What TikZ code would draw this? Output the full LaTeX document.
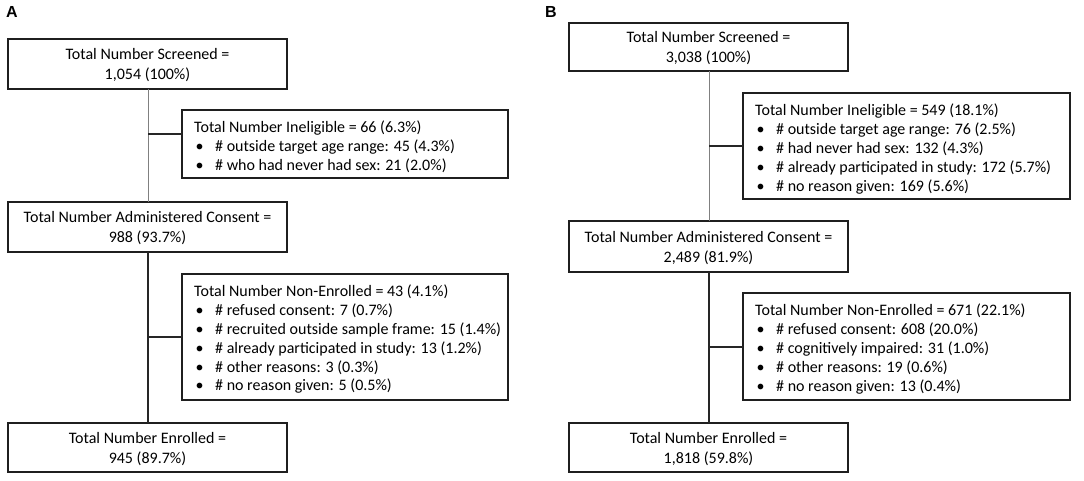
\documentclass[tikz,border=0pt]{standalone}
\usepackage{fontspec}
\setmainfont{Carlito}
\newfontfamily\labfont{Liberation Sans}
\begin{document}
\begin{tikzpicture}[x=1pt,y=-1pt,
  box/.style={draw=black!88,line width=1.4pt,inner sep=0pt},
  ctr/.style={align=center,font=\fontsize{16}{20}\selectfont,inner sep=0pt,yshift=-1.5pt},
  lft/.style={align=left,font=\fontsize{16}{18.8}\selectfont,inner sep=0pt,anchor=north west},
  thinline/.style={draw=black!50,line width=0.8pt},
  thickline/.style={draw=black!85,line width=1.3pt},
  branch/.style={draw=black!85,line width=1.3pt},
  panel/.style={font=\labfont\bfseries\fontsize{16}{16}\selectfont,inner sep=0pt}]
\newcommand{\bul}{\hspace*{1.5pt}\makebox[19.5pt][l]{\textbullet}}
\useasboundingbox (0,0) rectangle (1084,480);

% ---------- Panel A ----------
\node[panel] (labA) at (12,12) {A};
\draw[box] (8,39) rectangle (287,89);
\node[ctr] (aS) at (147.5,64) {Total Number Screened =\\1,054 (100\%)};
\draw[box] (182,110) rectangle (508,178);
\node[lft] (aI) at (194,121) {Total Number Ineligible = 66 (6.3\%)\\
\bul\# outside target age range: 45 (4.3\%)\\
\bul\# who had never had sex: 21 (2.0\%)};
\draw[box] (8,202) rectangle (287,252);
\node[ctr] (aC) at (147.5,227) {Total Number Administered Consent =\\988 (93.7\%)};
\draw[box] (182,274) rectangle (508,400);
\node[lft] (aN) at (194,285) {Total Number Non-Enrolled = 43 (4.1\%)\\
\bul\# refused consent: 7 (0.7\%)\\
\bul\# recruited outside sample frame: 15 (1.4\%)\\
\bul\# already participated in study: 13 (1.2\%)\\
\bul\# other reasons: 3 (0.3\%)\\
\bul\# no reason given: 5 (0.5\%)};
\draw[box] (8,423) rectangle (287,472);
\node[ctr] (aE) at (147.5,447.5) {Total Number Enrolled =\\945 (89.7\%)};
\coordinate (aS1) at (148,89);
\coordinate (aC0) at (148,202);
\coordinate (aC1) at (148,252);
\coordinate (aE0) at (148,423);
\coordinate (aJ1) at (148,134);
\coordinate (aI0) at (182,134);
\coordinate (aJ2) at (148,337);
\coordinate (aN0) at (182,337);
\draw[thinline] (aS1) -- (aC0);
\draw[branch] (aJ1) -- (aI0);
\draw[thickline] (aC1) -- (aE0);
\draw[branch] (aJ2) -- (aN0);

% ---------- Panel B ----------
\node[panel] (labB) at (551,12) {B};
\draw[box] (569,23) rectangle (848,71);
\node[ctr] (bS) at (708.5,47) {Total Number Screened =\\3,038 (100\%)};
\draw[box] (743,93) rectangle (1070,199);
\node[lft] (bI) at (755,104) {Total Number Ineligible = 549 (18.1\%)\\
\bul\# outside target age range: 76 (2.5\%)\\
\bul\# had never had sex: 132 (4.3\%)\\
\bul\# already participated in study: 172 (5.7\%)\\
\bul\# no reason given: 169 (5.6\%)};
\draw[box] (569,221) rectangle (848,272);
\node[ctr] (bC) at (708.5,246.5) {Total Number Administered Consent =\\2,489 (81.9\%)};
\draw[box] (743,293) rectangle (1070,400);
\node[lft] (bN) at (755,304) {Total Number Non-Enrolled = 671 (22.1\%)\\
\bul\# refused consent: 608 (20.0\%)\\
\bul\# cognitively impaired: 31 (1.0\%)\\
\bul\# other reasons: 19 (0.6\%)\\
\bul\# no reason given: 13 (0.4\%)};
\draw[box] (569,423) rectangle (848,472);
\node[ctr] (bE) at (708.5,447.5) {Total Number Enrolled =\\1,818 (59.8\%)};
\coordinate (bS1) at (709,71);
\coordinate (bC0) at (709,221);
\coordinate (bC1) at (709,272);
\coordinate (bE0) at (709,423);
\coordinate (bJ1) at (709,146);
\coordinate (bI0) at (743,146);
\coordinate (bJ2) at (709,347);
\coordinate (bN0) at (743,347);
\draw[thinline] (bS1) -- (bC0);
\draw[branch] (bJ1) -- (bI0);
\draw[thickline] (bC1) -- (bE0);
\draw[branch] (bJ2) -- (bN0);
\end{tikzpicture}
\end{document}
